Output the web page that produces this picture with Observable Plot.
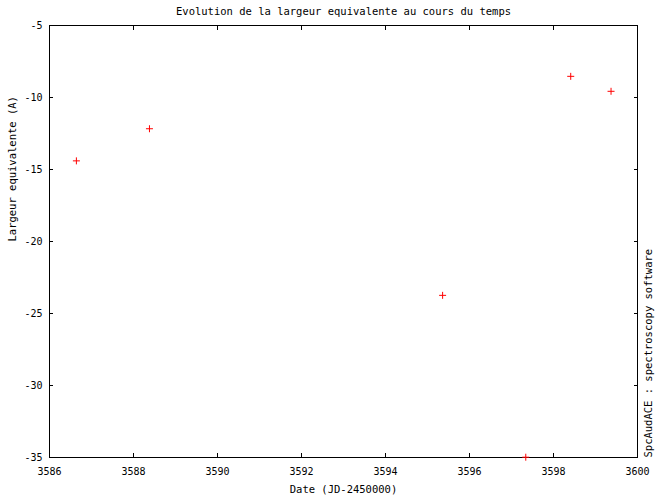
<!DOCTYPE html>
<html>
<head>
<meta charset="utf-8">
<script src="https://cdn.jsdelivr.net/npm/d3@7"></script>
<script src="https://cdn.jsdelivr.net/npm/@observablehq/plot@0.6"></script>
<style>
  html, body { margin: 0; padding: 0; background: #fff; }
</style>
</head>
<body>
<div id="chart"></div>
<script>
const dates = [3586.64, 3588.38, 3595.36, 3597.34, 3598.41, 3599.37];
const widths = [-14.4, -12.17, -23.74, -34.98, -8.53, -9.57];
const xTicks = [3586, 3588, 3590, 3592, 3594, 3596, 3598, 3600];
const yTicks = [-35, -30, -25, -20, -15, -10, -5];
const title = "Evolution de la largeur equivalente au cours du temps";
const xLabel = "Date (JD-2450000)";
const yLabel = "Largeur equivalente (A)";
const credit = "SpcAudACE : spectroscopy software";

const data = dates.map((d, i) => ({date: d, width: widths[i]}));
const font = "DejaVu Sans Mono";

const plusSymbol = {
  draw(ctx, size) {
    const r = Math.sqrt(size / Math.PI);
    ctx.moveTo(-r, 0); ctx.lineTo(r, 0);
    ctx.moveTo(0, -r); ctx.lineTo(0, r);
  }
};

const chart = Plot.plot({
  width: 656,
  height: 495,
  marginLeft: 49,
  marginRight: 19,
  marginTop: 25,
  marginBottom: 38,
  style: {fontFamily: font, fontSize: "10px", color: "#000", background: "#fff"},
  x: {domain: [3586, 3600]},
  y: {domain: [-35, -5]},
  marks: [
    Plot.frame({stroke: "#000", strokeWidth: 1}),
    Plot.axisX(xTicks, {anchor: "bottom", tickSize: -4, tickPadding: 14, label: null, fontSize: 10, tickFormat: d => String(d)}),
    Plot.axisX(xTicks, {anchor: "top", tickSize: -4, text: null, label: null}),
    Plot.axisY(yTicks, {anchor: "left", tickSize: -4, tickPadding: 11, label: null, fontSize: 10, tickFormat: d => d < 0 ? "-" + Math.abs(d) : String(d)}),
    Plot.axisY(yTicks, {anchor: "right", tickSize: -4, text: null, label: null}),
    Plot.text([title], {frameAnchor: "top", dy: -18, fontSize: 10.5, fontFamily: font, fill: "#000"}),
    Plot.text([xLabel], {frameAnchor: "bottom", dy: 35, fontSize: 10.5, fontFamily: font, fill: "#000"}),
    Plot.text([yLabel], {frameAnchor: "left", dx: -37, rotate: -90, fontSize: 10.5, fontFamily: font, fill: "#000"}),
    Plot.text([credit], {frameAnchor: "bottom-right", dx: 14, rotate: -90, textAnchor: "start", fontSize: 10.5, fontFamily: font, fill: "#000"}),
    Plot.dot(data, {x: "date", y: "width", symbol: plusSymbol, r: 3.5, stroke: "red", fill: "none", strokeWidth: 1, clip: false})
  ]
});
document.getElementById("chart").appendChild(chart);
</script>
</body>
</html>
